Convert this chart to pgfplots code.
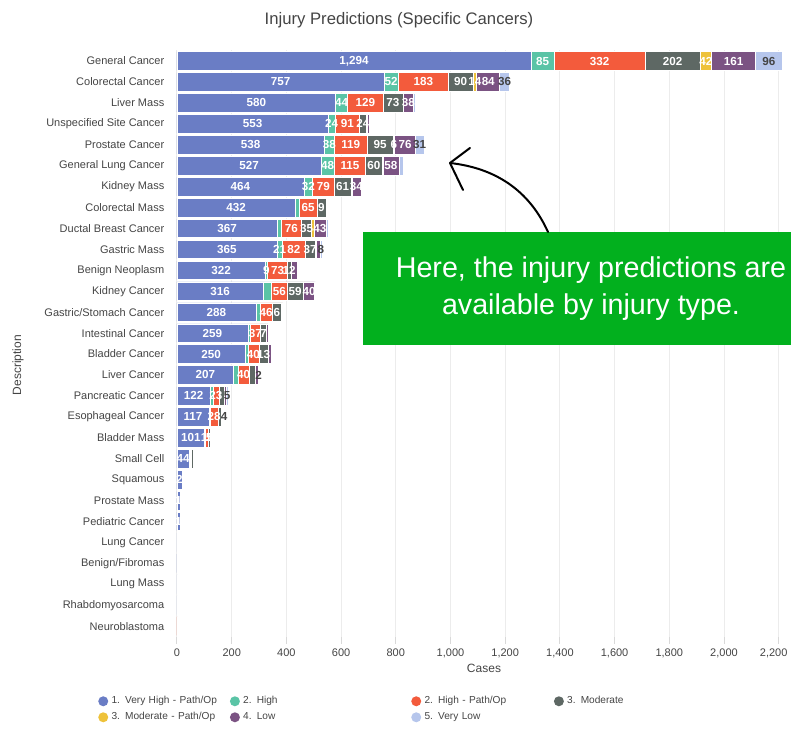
\documentclass[border=0pt]{standalone}
\usepackage{pgfplots}
\pgfplotsset{compat=1.18}
\usepackage{pgfplotstable}
\usepackage{fontspec}
\setmainfont{Liberation Sans}

\definecolor{cBlue}{RGB}{106,125,197}
\definecolor{cTeal}{RGB}{90,196,166}
\definecolor{cRed}{RGB}{243,91,60}
\definecolor{cGray}{RGB}{94,104,100}
\definecolor{cYellow}{RGB}{238,194,58}
\definecolor{cPurple}{RGB}{123,83,131}
\definecolor{cLight}{RGB}{182,198,236}
\definecolor{cGreen}{RGB}{2,176,30}
\definecolor{cText}{RGB}{68,68,68}

\pgfplotstableread{
i v1 v2 v3 v4 v5 v6 v7 l1 l2 l3 l4 l5 l6 l7
0 1294 85 332 202 42 161 96 1,294 85 332 202 42 161 96
1 757 52 183 90 14 84 36 757 52 183 90 14 84 36
2 580 44 129 73 1 38 6 580 44 129 73 {} 38 {}
3 553 24 91 24 2 10 2 553 24 91 24 {} {} {}
4 538 38 119 95 6 76 31 538 38 119 95 6 76 31
5 527 48 115 60 3 58 18 527 48 115 60 {} 58 {}
6 464 32 79 61 3 34 2 464 32 79 61 {} 34 {}
7 432 15 65 32 1 5 0 432 {} 65 9 {} {} {}
8 367 13 76 35 10 43 8 367 {} 76 35 {} 43 {}
9 365 21 82 37 3 14 8 365 21 82 37 {} {} 8
10 322 9 73 12 3 21 0 322 9 73 12 {} {} {}
11 316 30 56 59 2 40 4 316 {} 56 59 {} 40 {}
12 288 15 46 33 1 3 0 288 {} 46 6 {} {} {}
13 259 9 37 22 1 4 0 259 {} 37 7 {} {} {}
14 250 9 40 35 1 8 0 250 {} 40 13 {} {} {}
15 207 17 40 22 1 10 2 207 {} 40 {} {} {} 2
16 122 9 23 17 2 8 5 122 {} 23 {} {} {} 5
17 117 5 28 12 2 6 4 117 {} 28 {} {} {} 4
18 101 3 11 5 2 2 1 101 {} 11 5 {} {} {}
19 44 3 5 7 0 1 0 44 {} {} {} {} {} {}
20 18 0 5 0 0 0 0 2 {} {} {} {} {} {}
21 11 0 5 0 0 0 0 1 {} {} {} {} {} {}
22 11 1 2 1 0 0 0 1 {} {} {} {} {} {}
23 0 0 0 0 0 0 3 {} {} {} {} {} {} {}
24 2 0 0 2 0 0 0 {} {} {} {} {} {} {}
25 0 0 0 0 0 0 2 {} {} {} {} {} {} {}
26 0 0 0 0 0 0 1 {} {} {} {} {} {} {}
27 0 0 1 0 0 0 0 {} {} {} {} {} {} {}
}\data

\pgfplotsset{
  seg/.style={draw=white, line width=0.4pt,
    every node near coord/.style={anchor=center, inner sep=0pt,
      font=\bfseries\fontsize{8.75}{9}\selectfont, text=#1}},
  seg/.default=white,
}

\begin{document}
\begin{tikzpicture}
\useasboundingbox (-132.75pt,-73.5pt) rectangle (460.5pt,477.75pt);
\begin{axis}[
  at={(0,0)}, anchor=south west,
  scale only axis, width=460.5pt, height=440.25pt,
  xbar stacked, bar width=13.9pt,
  xmin=0, xmax=2245,
  ymin=-0.526, ymax=27.52, y dir=reverse,
  ytick={0,...,27},
  yticklabels={General Cancer, Colorectal Cancer, Liver Mass, Unspecified Site Cancer, Prostate Cancer, General Lung Cancer, Kidney Mass, Colorectal Mass, Ductal Breast Cancer, Gastric Mass, Benign Neoplasm, Kidney Cancer, Gastric/Stomach Cancer, Intestinal Cancer, Bladder Cancer, Liver Cancer, Pancreatic Cancer, Esophageal Cancer, Bladder Mass, Small Cell, Squamous, Prostate Mass, Pediatric Cancer, Lung Cancer, Benign/Fibromas, Lung Mass, Rhabdomyosarcoma, Neuroblastoma},
  xtick={0,200,...,2200},
  xticklabels={0,200,400,600,800,{1,000},{1,200},{1,400},{1,600},{1,800},{2,000},{\hspace*{-7.5pt}2,200}},
  xtick pos=bottom,
  tick label style={font=\fontsize{8.25}{10}\selectfont, text=cText},
  yticklabel style={xshift=-1pt},
  axis line style={draw=none},
  ytick style={draw=none},
  xtick style={draw=gray!30, line width=0.75pt},
  tick align=outside, major tick length=5pt,
  xmajorgrids, grid style={draw=gray!15, line width=0.75pt},
  nodes near coords, point meta=explicit symbolic,
  title={Injury Predictions (Specific Cancers)},
  title style={at={(0.3616,1.038)}, anchor=center, yshift=0pt, font=\fontsize{12.5}{14}\selectfont, text=cText},
  xlabel={Cases},
  xlabel style={at={(0.5,-0.0528)}, anchor=center, font=\fontsize{9}{10}\selectfont, text=cText},
  ylabel={Description},
  ylabel style={at={(-0.259,0.463)}, anchor=center, font=\fontsize{9}{10}\selectfont, text=cText},
  legend columns=4,
  legend cell align=left,
  legend image code/.code={\fill[#1,draw=none] (3.75pt,0pt) circle (3.75pt);},
  legend style={draw=none, fill=none, at={(-0.1287,-0.0954)}, anchor=north west,
    inner sep=0pt, row sep=0pt, column sep=0pt,
    font=\fontsize{7.6}{9}\selectfont, text=cText,
    nodes={inner sep=2.5pt, align=left},
    /tikz/column 2/.style={nodes={text width=86.25pt}},
    /tikz/column 4/.style={nodes={text width=123.5pt}},
    /tikz/column 6/.style={nodes={text width=94.5pt}},
    /tikz/column 8/.style={nodes={text width=60pt}}},
]
\addplot[fill=cBlue, seg] table[x=v1,y=i,meta=l1]{\data};
\addplot[fill=cTeal, seg] table[x=v2,y=i,meta=l2]{\data};
\addplot[fill=cRed, seg] table[x=v3,y=i,meta=l3]{\data};
\addplot[fill=cGray, seg] table[x=v4,y=i,meta=l4]{\data};
\addplot[fill=cYellow, seg] table[x=v5,y=i,meta=l5]{\data};
\addplot[fill=cPurple, seg] table[x=v6,y=i,meta=l6]{\data};
\addplot[fill=cLight, seg=cText] table[x=v7,y=i,meta=l7]{\data};
\legend{1. Very High - Path/Op, 2. High, 2. High - Path/Op, 3. Moderate, 3. Moderate - Path/Op, 4. Low, 5. Very Low}
\end{axis}
% annotation
\fill[cGreen] (139.5pt,219pt) rectangle (460.5pt,303.75pt);
\node[text=white, align=center, font=\fontsize{21.5}{27.75}\selectfont] at (310.5pt,261.4pt)
  {Here, the injury predictions are\\available by injury type.};
\draw[line width=1.5pt, line cap=round, line join=round]
  (278.25pt,303.75pt) .. controls (264pt,335.25pt) and (238.5pt,351.75pt) .. (204.75pt,355.5pt);
\draw[line width=1.5pt, line cap=round, line join=round]
  (219.75pt,366.75pt) -- (204.75pt,355.5pt) -- (214.5pt,335.25pt);
\end{tikzpicture}
\end{document}
